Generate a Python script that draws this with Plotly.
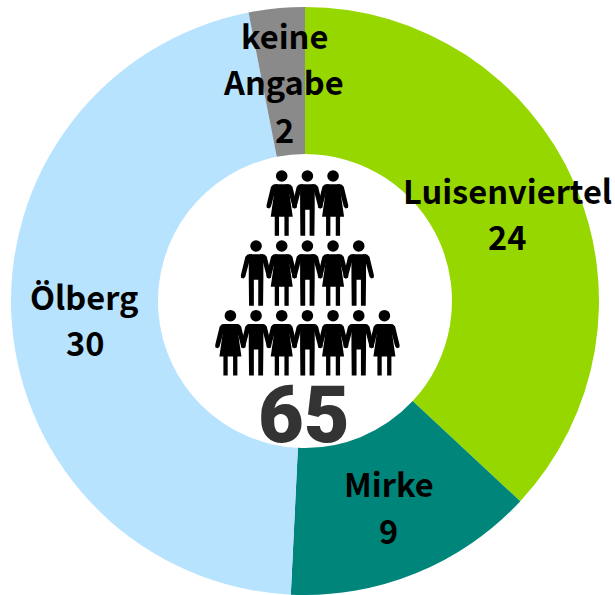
import plotly.graph_objects as go

labels = ["Luisenviertel", "Mirke", "Ölberg", "keine Angabe"]
values = [24, 9, 30, 2]
colors = ["#97D700", "#00857A", "#B8E3FF", "#8A8A8A"]
total_label = "65"
rows = ["WMW", "MWMWM", "WMWMWMW"]

W, H = 615, 595
FONT = "Noto Sans CJK JP"

def px(x):
    return x / W

def py(y):
    return 1 - y / H

def path(points):
    return "M " + " L ".join(f"{px(x):.5f},{py(y):.5f}" for x, y in points) + " Z"

def arm_points(cx, top, s):
    return [(cx + s * 4, top), (cx + s * 8.5, top + 0.3), (cx + s * 10.7, top + 2.5),
            (cx + s * 15.2, top + 21), (cx + s * 15, top + 23.5), (cx + s * 12.5, top + 24.3),
            (cx + s * 10.8, top + 22.5), (cx + s * 7.2, top + 9)]

def person(cx, head_y, kind):
    shapes = []
    style = dict(type="path", xref="paper", yref="paper", fillcolor="#000000", line_width=0, layer="above")
    r = 5.8
    shapes.append(dict(type="circle", xref="paper", yref="paper", fillcolor="#000000", line_width=0,
                       x0=px(cx - r), x1=px(cx + r), y0=py(head_y + r), y1=py(head_y - r), layer="above"))
    top = head_y + 8.3
    if kind == "M":
        body = [(cx - 7.3, top), (cx + 7.3, top), (cx + 7.3, top + 25), (cx + 7, top + 51.5), (cx + 2.2, top + 51.5),
                (cx + 2.2, top + 25.5), (cx - 2.2, top + 25.5), (cx - 2.2, top + 51.5), (cx - 7, top + 51.5), (cx - 7.3, top + 25)]
        shapes.append(dict(style, path=path(body)))
    else:
        body = [(cx - 7, top), (cx + 7, top), (cx + 7.5, top + 8), (cx + 11, top + 32.5), (cx - 11, top + 32.5), (cx - 7.5, top + 8)]
        shapes.append(dict(style, path=path(body)))
        for a, b in [(-7, -2.7), (2.7, 7)]:
            leg = [(cx + a, top + 31), (cx + b, top + 31), (cx + b, top + 51.5), (cx + a, top + 51.5)]
            shapes.append(dict(style, path=path(leg)))
    for s in (-1, 1):
        shapes.append(dict(style, path=path(arm_points(cx, top, s))))
    return shapes

shapes = []
pitch = 25.67
center_x = 307.4
for row, head_y in zip(rows, [176, 246, 315.7]):
    n = len(row)
    for i, kind in enumerate(row):
        shapes += person(center_x + (i - (n - 1) / 2) * pitch, head_y, kind)

fig = go.Figure(go.Pie(
    labels=labels,
    values=values,
    marker=dict(colors=colors, line=dict(width=0)),
    hole=0.5,
    sort=False,
    direction="clockwise",
    rotation=0,
    textinfo="none",
    showlegend=False,
    domain=dict(x=[10 / W, 600 / W], y=[0, 1 - 7 / H]),
))

label_lines = [
    (labels[0], 507, 190), (str(values[0]), 507, 236),
    (labels[1], 388.5, 482), (str(values[1]), 388, 529),
    (labels[2], 84.5, 295), (str(values[2]), 84.5, 341),
    ("keine", 284, 34), ("Angabe", 283, 81), (str(values[3]), 284, 128),
]
annotations = [
    dict(text=t, x=px(x), y=py(y), xref="paper", yref="paper", showarrow=False,
         xanchor="center", yanchor="middle", align="center",
         font=dict(family=FONT, size=32.6, color="#000000", weight=700))
    for t, x, y in label_lines
]
annotations.append(dict(text=total_label, x=px(304), y=py(415), xref="paper", yref="paper", showarrow=False,
                        xanchor="center", yanchor="middle",
                        font=dict(family="Roboto", size=79, color="#333333", weight=900)))

fig.update_layout(
    width=W, height=H, autosize=False,
    margin=dict(l=0, r=0, t=0, b=0),
    paper_bgcolor="white",
    shapes=shapes,
    annotations=annotations,
)
fig.write_html("out.html", config={"displayModeBar": False}, post_script="document.body.style.margin='0';")
